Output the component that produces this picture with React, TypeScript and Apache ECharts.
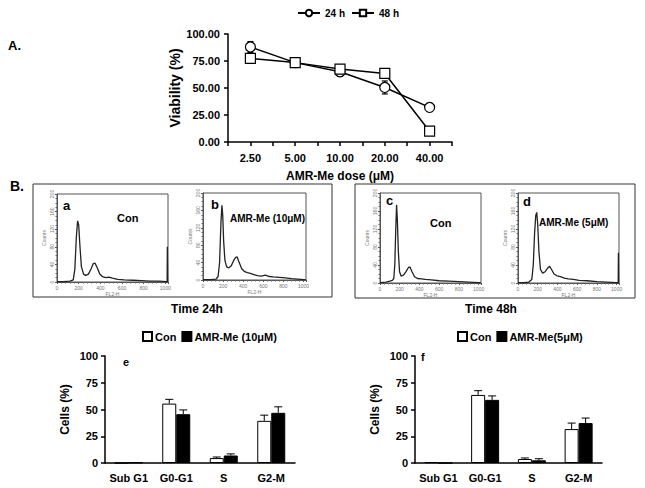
import React, { useEffect, useRef } from 'react';
import * as echarts from 'echarts';

// ---- Panel A: viability ----
const doseLabels = ['2.50', '5.00', '10.00', '20.00', '40.00'];
const via24 = [88, 73.5, 65, 50.5, 32];
const via24Err = [5, 2, 4, 6, 3];
const via48 = [77.5, 73.5, 67.5, 63.5, 10];
const via48Err = [2, 4, 2, 2, 1];

// ---- Panel B: flow cytometry histograms [FL2-H channel, counts] ----
const histA = [[0,1],[60,1],[120,2],[150,5],[165,30],[178,100],[190,139],[200,130],[212,80],[225,35],[245,18],[265,15],[290,18],[315,30],[335,42],[350,43],[370,33],[395,18],[420,12],[450,10],[480,11],[510,9],[560,6],[620,5],[700,4],[780,3],[860,2],[940,2],[1010,1],[1016,0],[1018,80],[1020,80],[1021,0]];
const histB = [[0,1],[80,1],[130,2],[150,8],[165,40],[178,130],[188,172],[196,150],[205,90],[218,45],[235,30],[255,28],[280,32],[305,45],[325,52],[340,53],[360,40],[385,26],[410,20],[440,17],[470,15],[500,13],[540,10],[580,9],[620,11],[660,8],[700,7],[760,6],[820,5],[880,3],[940,2],[1000,1],[1020,1]];
const histC = [[0,1],[60,2],[100,4],[125,6],[140,10],[150,40],[160,120],[168,174],[176,140],[186,70],[198,25],[215,15],[240,18],[265,26],[290,35],[305,35],[325,25],[350,14],[380,10],[420,9],[460,8],[520,7],[600,5],[700,4],[800,3],[900,2],[1000,1],[1020,1]];
const histD = [[0,1],[60,1],[110,2],[140,8],[155,40],[168,110],[180,150],[190,157],[200,130],[212,70],[228,30],[250,22],[275,25],[300,33],[320,37],[340,30],[365,20],[395,16],[430,14],[470,11],[510,9],[560,8],[620,6],[700,5],[800,3],[900,2],[1000,1],[1016,0],[1018,67],[1020,67],[1021,0]];

// ---- Panel B: cell-cycle bars ----
const phases = ['Sub G1', 'G0-G1', 'S', 'G2-M'];
const con24 = [0, 55.5, 4.6, 39.4];
const con24Err = [0, 4, 1, 5.3];
const amr24 = [0.5, 45.6, 7, 46.9];
const amr24Err = [0, 4, 1.5, 5.6];
const con48 = [0.8, 63.6, 3.7, 31.7];
const con48Err = [0, 4, 1, 5.6];
const amr48 = [0, 59, 2.5, 37.3];
const amr48Err = [0, 3.7, 1.5, 4.7];

const FONT = 'Liberation Sans, Arial, sans-serif';

function errTwoSided(params: any, api: any) {
  const x = api.value(0), y = api.value(1), e = api.value(2);
  if (!e) return null;
  const hi = api.coord([x, y + e]);
  const lo = api.coord([x, y - e]);
  const st = { stroke: '#000', lineWidth: 1.2 };
  return {
    type: 'group',
    children: [
      { type: 'line', shape: { x1: hi[0], y1: hi[1], x2: lo[0], y2: lo[1] }, style: st },
      { type: 'line', shape: { x1: hi[0] - 3, y1: hi[1], x2: hi[0] + 3, y2: hi[1] }, style: st },
      { type: 'line', shape: { x1: lo[0] - 3, y1: lo[1], x2: lo[0] + 3, y2: lo[1] }, style: st },
    ],
  };
}

function errUp(params: any, api: any) {
  const x = api.value(0), y = api.value(1), e = api.value(2), off = api.value(3);
  if (!e) return null;
  const base = api.coord([x, y]);
  const hi = api.coord([x, y + e]);
  const cx = base[0] + off;
  const st = { stroke: '#000', lineWidth: 1 };
  return {
    type: 'group',
    children: [
      { type: 'line', shape: { x1: cx, y1: base[1], x2: cx, y2: hi[1] }, style: st },
      { type: 'line', shape: { x1: cx - 4, y1: hi[1], x2: cx + 4, y2: hi[1] }, style: st },
    ],
  };
}

const histX = (gi: number) => ({
  type: 'value', gridIndex: gi, min: 0, max: 1024, interval: 200,
  axisLine: { show: true, onZero: false, lineStyle: { color: '#555', width: 1 } },
  axisTick: { show: true, length: 2, lineStyle: { color: '#555' } },
  minorTick: { show: true, splitNumber: 5, length: 1.5, lineStyle: { color: '#666' } },
  axisLabel: { fontSize: 5, color: '#777', margin: 3, showMaxLabel: false, fontFamily: FONT, formatter: (v: number) => String(v) },
  splitLine: { show: false },
  name: 'FL2-H', nameLocation: 'middle', nameGap: 9,
  nameTextStyle: { fontSize: 5, color: '#777', fontFamily: FONT },
});
const histY = (gi: number) => ({
  type: 'value', gridIndex: gi, min: 0, max: 200, interval: 40,
  axisLine: { show: true, onZero: false, lineStyle: { color: '#555', width: 1 } },
  axisTick: { show: true, length: 2, lineStyle: { color: '#555' } },
  minorTick: { show: true, splitNumber: 4, length: 1.5, lineStyle: { color: '#666' } },
  axisLabel: { fontSize: 5, color: '#777', margin: 3, rotate: 90, fontFamily: FONT },
  splitLine: { show: false },
  name: 'Counts', nameLocation: 'middle', nameGap: 11,
  nameTextStyle: { fontSize: 5, color: '#777', fontFamily: FONT },
});

const barX = (gi: number) => ({
  type: 'category', gridIndex: gi, data: phases,
  axisLine: { lineStyle: { color: '#000', width: 1.5 } },
  axisTick: { show: false },
  axisLabel: { interval: 0, fontSize: 11, fontWeight: 'bold', color: '#000', margin: 9, fontFamily: FONT },
});
const barY = (gi: number) => ({
  type: 'value', gridIndex: gi, min: 0, max: 100, interval: 25,
  axisLine: { show: true, lineStyle: { color: '#000', width: 1.5 } },
  axisTick: { show: true, length: 4, lineStyle: { color: '#000', width: 1.5 } },
  axisLabel: { fontSize: 11, fontWeight: 'bold', color: '#000', margin: 7, fontFamily: FONT },
  splitLine: { show: false },
  name: 'Cells (%)', nameLocation: 'middle', nameGap: 34,
  nameTextStyle: { fontSize: 12, fontWeight: 'bold', color: '#000', fontFamily: FONT },
});

const txt = (text: string, x: number, y: number, size: number, align = 'left', color = '#000') => ({
  type: 'text', x, y,
  style: { text, fontSize: size, fontWeight: 'bold', fontFamily: FONT, fill: color, textAlign: align, align, textVerticalAlign: 'middle', verticalAlign: 'middle' },
});

const histLine = (name: string, gi: number, data: number[][]) => ({
  type: 'line', name, xAxisIndex: gi, yAxisIndex: gi, data, symbol: 'none',
  lineStyle: { color: '#222', width: 1.3 },
});

export default function App() {
  const ref = useRef<HTMLDivElement>(null);
  useEffect(() => {
    if (!ref.current) return;
    const chart = echarts.init(ref.current, null, { renderer: 'svg' });
    const option: any = {
      animation: false,
      backgroundColor: '#fff',
      textStyle: { fontFamily: FONT },
      legend: [
        {
          data: ['24 h', '48 h'], left: 292, top: 3, itemWidth: 22, itemHeight: 8, itemGap: 6,
          textStyle: { fontSize: 10, fontWeight: 'bold', color: '#000', fontFamily: FONT },
        },
        {
          data: ['Con', 'AMR-Me (10μM)'], left: 137, top: 326, icon: 'rect', itemWidth: 9, itemHeight: 9, itemGap: 5,
          textStyle: { fontSize: 11, fontWeight: 'bold', color: '#000', fontFamily: FONT, padding: [0, 0, 0, -2] },
        },
        {
          data: ['Con', 'AMR-Me(5μM)'], left: 452, top: 326, icon: 'rect', itemWidth: 9, itemHeight: 9, itemGap: 5,
          textStyle: { fontSize: 11, fontWeight: 'bold', color: '#000', fontFamily: FONT, padding: [0, 0, 0, -2] },
        },
      ],
      grid: [
        { left: 228, top: 34, width: 224, height: 108 },
        { left: 57, top: 194, width: 111, height: 88, show: true, borderColor: '#555', borderWidth: 1 },
        { left: 203, top: 193, width: 103, height: 87, show: true, borderColor: '#555', borderWidth: 1 },
        { left: 380, top: 193, width: 101, height: 90, show: true, borderColor: '#555', borderWidth: 1 },
        { left: 518, top: 193, width: 101, height: 90, show: true, borderColor: '#555', borderWidth: 1 },
        { left: 105, top: 356, width: 190, height: 107 },
        { left: 415, top: 356, width: 187, height: 107 },
      ],
      xAxis: [
        {
          type: 'value', gridIndex: 0, min: 0.5, max: 5.5, interval: 0.5,
          axisLine: { onZero: false, lineStyle: { color: '#000', width: 1.5 } },
          axisTick: { show: true, length: 4, lineStyle: { color: '#000', width: 1.5 } },
          axisLabel: {
            fontSize: 11, fontWeight: 'bold', color: '#000', margin: 10, fontFamily: FONT,
            formatter: (v: number) => (Math.abs(v - Math.round(v)) < 1e-6 && v >= 1 && v <= 5 ? doseLabels[Math.round(v) - 1] : ''),
          },
          splitLine: { show: false },
          name: 'AMR-Me dose (μM)', nameLocation: 'middle', nameGap: 28,
          nameTextStyle: { fontSize: 12, fontWeight: 'bold', color: '#000', fontFamily: FONT },
        },
        histX(1), histX(2), histX(3), histX(4),
        barX(5), barX(6),
      ],
      yAxis: [
        {
          type: 'value', gridIndex: 0, min: 0, max: 100, interval: 25,
          axisLine: { show: true, lineStyle: { color: '#000', width: 1.5 } },
          axisTick: { show: true, length: 4, lineStyle: { color: '#000', width: 1.5 } },
          axisLabel: { fontSize: 11, fontWeight: 'bold', color: '#000', margin: 8, fontFamily: FONT, formatter: (v: number) => v.toFixed(2) },
          splitLine: { show: false },
          name: 'Viability (%)', nameLocation: 'middle', nameGap: 43,
          nameTextStyle: { fontSize: 14, fontWeight: 'bold', color: '#000', fontFamily: FONT },
        },
        histY(1), histY(2), histY(3), histY(4),
        barY(5), barY(6),
      ],
      series: [
        {
          type: 'custom', name: 'err24', xAxisIndex: 0, yAxisIndex: 0, z: 1,
          data: via24.map((v, i) => [i + 1, v, via24Err[i]]), renderItem: errTwoSided,
        },
        {
          type: 'custom', name: 'err48', xAxisIndex: 0, yAxisIndex: 0, z: 1,
          data: via48.map((v, i) => [i + 1, v, via48Err[i]]), renderItem: errTwoSided,
        },
        {
          type: 'line', name: '24 h', xAxisIndex: 0, yAxisIndex: 0, z: 3,
          data: via24.map((v, i) => [i + 1, v]), symbol: 'circle', symbolSize: 10,
          lineStyle: { color: '#000', width: 1.5 },
          itemStyle: { color: '#fff', borderColor: '#000', borderWidth: 1.2 },
        },
        {
          type: 'line', name: '48 h', xAxisIndex: 0, yAxisIndex: 0, z: 3,
          data: via48.map((v, i) => [i + 1, v]), symbol: 'rect', symbolSize: 10,
          lineStyle: { color: '#000', width: 1.5 },
          itemStyle: { color: '#fff', borderColor: '#000', borderWidth: 1.2 },
        },
        histLine('a', 1, histA), histLine('b', 2, histB), histLine('c', 3, histC), histLine('d', 4, histD),
        {
          type: 'bar', name: 'Con', xAxisIndex: 5, yAxisIndex: 5, data: con24, barWidth: 14, barGap: '0%',
          itemStyle: { color: '#fff', borderColor: '#000', borderWidth: 1 },
        },
        {
          type: 'bar', name: 'AMR-Me (10μM)', xAxisIndex: 5, yAxisIndex: 5, data: amr24, barWidth: 14, barGap: '0%',
          itemStyle: { color: '#000', borderColor: '#000', borderWidth: 1 },
        },
        {
          type: 'custom', name: 'errE', xAxisIndex: 5, yAxisIndex: 5, z: 3, renderItem: errUp,
          data: [...con24.map((v, i) => [i, v, con24Err[i], -7]), ...amr24.map((v, i) => [i, v, amr24Err[i], 7])],
        },
        {
          type: 'bar', name: 'Con', xAxisIndex: 6, yAxisIndex: 6, data: con48, barWidth: 14, barGap: '0%',
          itemStyle: { color: '#fff', borderColor: '#000', borderWidth: 1 },
        },
        {
          type: 'bar', name: 'AMR-Me(5μM)', xAxisIndex: 6, yAxisIndex: 6, data: amr48, barWidth: 14, barGap: '0%',
          itemStyle: { color: '#000', borderColor: '#000', borderWidth: 1 },
        },
        {
          type: 'custom', name: 'errF', xAxisIndex: 6, yAxisIndex: 6, z: 3, renderItem: errUp,
          data: [...con48.map((v, i) => [i, v, con48Err[i], -7]), ...amr48.map((v, i) => [i, v, amr48Err[i], 7])],
        },
      ],
      graphic: [
        { type: 'rect', shape: { x: 33, y: 184, width: 299, height: 113 }, style: { fill: 'none', stroke: '#333', lineWidth: 1 } },
        { type: 'rect', shape: { x: 355, y: 184, width: 280, height: 114 }, style: { fill: 'none', stroke: '#333', lineWidth: 1 } },
        txt('A.', 8, 45, 13),
        txt('B.', 10, 186, 14),
        txt('a', 63, 205, 13),
        txt('Con', 117, 218, 11),
        txt('b', 211, 204, 13),
        txt('AMR-Me (10μM)', 230, 218, 10),
        txt('c', 386, 200, 13),
        txt('Con', 430, 223, 11),
        txt('d', 523, 201, 13),
        txt('AMR-Me (5μM)', 539, 222, 10),
        txt('Time 24h', 197, 309, 12, 'center'),
        txt('Time 48h', 491, 309, 12, 'center'),
        txt('e', 123, 362, 11),
        txt('f', 421, 357, 11),
      ],
    };
    chart.setOption(option);
    return () => chart.dispose();
  }, []);
  return <div ref={ref} style={{ position: 'absolute', left: 0, top: 0, width: 645, height: 488 }} />;
}
